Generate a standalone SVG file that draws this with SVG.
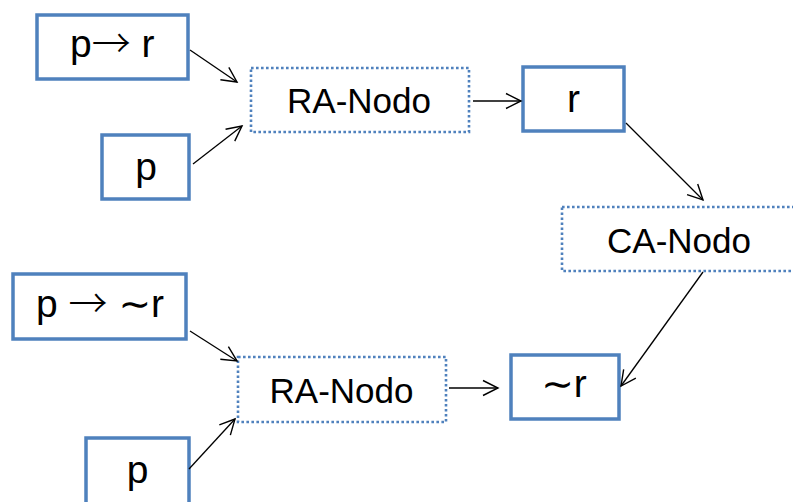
<svg xmlns="http://www.w3.org/2000/svg" width="793" height="502" viewBox="0 0 793 502">
<style>
.box{fill:#ffffff;stroke:#4F81BD;stroke-width:3.5}
.dot{fill:#ffffff;stroke:#4F81BD;stroke-width:2.6;stroke-dasharray:2.6 2.4}
.t{font-family:"Liberation Sans",Arial,"DejaVu Sans",sans-serif;fill:#000;text-anchor:middle}
.ts{font-family:"Liberation Sans",Arial,"DejaVu Sans",sans-serif;fill:#000;text-anchor:start;font-size:39px}
.sym{font-family:"DejaVu Sans",sans-serif}
.arr{font-family:"Noto Sans CJK SC","Noto Sans CJK JP",sans-serif;font-size:39px;font-weight:300}
.big{font-size:39px}
.mid{font-size:35px}
.c{stroke:#000;stroke-width:1.3;fill:none;marker-end:url(#ah)}
</style>
<defs>
<marker id="ah" markerUnits="userSpaceOnUse" viewBox="0 0 18 18" markerWidth="18" markerHeight="18" refX="16" refY="9" orient="auto">
<path d="M1,1.5 L16,9 L1,16.5" fill="none" stroke="#000" stroke-width="1.4"/>
</marker>
</defs>
<rect width="793" height="502" fill="#ffffff"/>
<g id="n_pr">
<rect class="box" x="37" y="15" width="151" height="64"/>
<text class="ts" x="70" y="57">p<tspan class="arr">→</tspan> r</text>
</g>
<g id="n_p1">
<rect class="box" x="102" y="135" width="87" height="64"/>
<text class="t big" x="146" y="180">p</text>
</g>
<g id="n_ra1">
<rect class="dot" x="251" y="68" width="218" height="64"/>
<text class="t mid" x="359" y="113">RA-Nodo</text>
</g>
<g id="n_r">
<rect class="box" x="523" y="67" width="101" height="64"/>
<text class="t big" x="573.5" y="112">r</text>
</g>
<g id="n_ca">
<rect class="dot" x="562" y="207" width="250" height="64"/>
<text class="t mid" x="679" y="253">CA-Nodo</text>
</g>
<g id="n_pnr">
<rect class="box" x="13" y="274" width="173" height="65"/>
<text class="ts" x="36" y="317">p <tspan class="arr">→</tspan> <tspan class="sym">∼</tspan>r</text>
</g>
<g id="n_p2">
<rect class="box" x="86" y="438" width="103" height="80"/>
<text class="t big" x="137.5" y="483">p</text>
</g>
<g id="n_ra2">
<rect class="dot" x="238" y="357" width="208" height="65"/>
<text class="t mid" x="341.5" y="403">RA-Nodo</text>
</g>
<g id="n_nr">
<rect class="box" x="511" y="355" width="108" height="64"/>
<text class="t big" x="564" y="397"><tspan class="sym">∼</tspan>r</text>
</g>
<g id="connectors">
<line class="c" x1="190" y1="50" x2="237" y2="82"/>
<line class="c" x1="193" y1="164" x2="242" y2="126"/>
<line class="c" x1="473" y1="101" x2="521" y2="101"/>
<line class="c" x1="626" y1="123" x2="703" y2="200"/>
<line class="c" x1="703" y1="272" x2="621" y2="386"/>
<line class="c" x1="190" y1="331" x2="237" y2="361"/>
<line class="c" x1="189" y1="469" x2="235" y2="419"/>
<line class="c" x1="449" y1="388" x2="498" y2="388"/>
</g>
</svg>
